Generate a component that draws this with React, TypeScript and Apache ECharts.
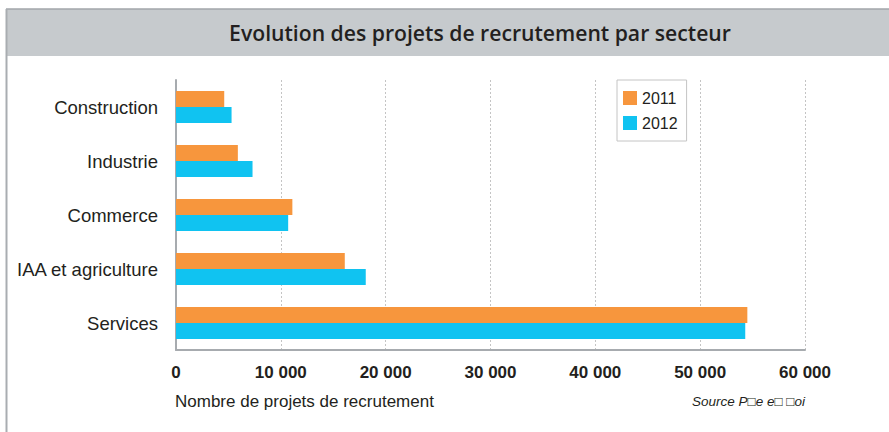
import React, { useEffect, useRef } from "react";
import * as echarts from "echarts";

const categories = ["Construction", "Industrie", "Commerce", "IAA et agriculture", "Services"];
const values2011 = [4600, 5900, 11100, 16100, 54500];
const values2012 = [5300, 7300, 10700, 18100, 54300];
const xTicks = [0, 10000, 20000, 30000, 40000, 50000, 60000];
const seriesNames = ["2011", "2012"];
const titleText = "Evolution des projets de recrutement par secteur";
const axisNameText = "Nombre de projets de recrutement";
const sourceText = "Source P\u25A1e e\u25A1 \u25A1oi";

const fmt = (v: number) => String(v).replace(/\B(?=(\d{3})+(?!\d))/g, " ");

const TITLE_FONT = "600 22px 'Open Sans'";
const TITLE_TARGET_WIDTH = 502;

function titleScale(): number {
  try {
    const c = document.createElement("canvas");
    const ctx = c.getContext("2d");
    if (!ctx) return 0.85;
    ctx.font = TITLE_FONT;
    const w = ctx.measureText(titleText).width;
    if (!w) return 0.85;
    return Math.min(1, TITLE_TARGET_WIDTH / w);
  } catch (e) {
    return 0.85;
  }
}

export default function App() {
  const ref = useRef<HTMLDivElement>(null);
  useEffect(() => {
    if (!ref.current) return;
    const chart = echarts.init(ref.current, null, { renderer: "svg" });
    const sx = titleScale();
    chart.setOption({
      animation: false,
      backgroundColor: "#ffffff",
      textStyle: { fontFamily: "Liberation Sans, Arial, sans-serif" },
      graphic: [
        { type: "rect", shape: { x: 7, y: 9, width: 882, height: 47 }, style: { fill: "#c6cacd" }, z: 0 },
        { type: "line", shape: { x1: 6, y1: 9, x2: 889, y2: 9 }, style: { stroke: "#a2a6aa", lineWidth: 1.5 }, z: 1 },
        { type: "line", shape: { x1: 6.5, y1: 9, x2: 6.5, y2: 432 }, style: { stroke: "#a9adb1", lineWidth: 2 }, z: 1 },
        {
          type: "text",
          x: 480,
          y: 32,
          scaleX: sx,
          style: {
            text: titleText,
            fontFamily: "Open Sans",
            fontSize: 22,
            fontWeight: 600,
            fill: "#231f20",
            align: "center",
            verticalAlign: "middle",
          },
          z: 2,
        },
        {
          type: "text",
          x: 175,
          y: 401,
          style: {
            text: axisNameText,
            fontFamily: "Liberation Sans, Arial, sans-serif",
            fontSize: 17,
            fill: "#231f20",
            align: "left",
            verticalAlign: "middle",
          },
        },
        {
          type: "text",
          x: 805,
          y: 401,
          style: {
            text: sourceText,
            fontFamily: "Liberation Sans, Arial, sans-serif",
            fontSize: 13.5,
            fontStyle: "italic",
            fill: "#231f20",
            align: "right",
            verticalAlign: "middle",
          },
        },
      ],
      legend: {
        orient: "vertical",
        left: 617,
        top: 80,
        data: seriesNames,
        itemWidth: 14,
        itemHeight: 14,
        itemGap: 9,
        padding: [10, 9, 10, 6],
        borderColor: "#c4c4c4",
        borderWidth: 1,
        icon: "rect",
        textStyle: { fontSize: 16, color: "#231f20", fontFamily: "Liberation Sans, Arial, sans-serif" },
      },
      grid: { left: 176, right: 84, top: 80, bottom: 82, containLabel: false },
      xAxis: {
        type: "value",
        min: xTicks[0],
        max: xTicks[xTicks.length - 1],
        interval: xTicks[1] - xTicks[0],
        axisLine: { show: true, lineStyle: { color: "#a7abaf", width: 2 } },
        axisTick: { show: false },
        splitLine: { show: true, lineStyle: { color: "#c4c4c4", type: [2, 2], width: 1 } },
        axisLabel: {
          fontSize: 17,
          fontWeight: "bold",
          color: "#231f20",
          margin: 14,
          fontFamily: "Liberation Sans, Arial, sans-serif",
          formatter: (v: number) => fmt(v),
        },
      },
      yAxis: {
        type: "category",
        inverse: true,
        data: categories,
        axisLine: { show: true, lineStyle: { color: "#a7abaf", width: 2 } },
        axisTick: { show: false },
        axisLabel: { fontSize: 18.5, color: "#231f20", margin: 18, fontFamily: "Liberation Sans, Arial, sans-serif" },
      },
      series: [
        {
          name: seriesNames[0],
          type: "bar",
          data: values2011,
          barWidth: 16,
          barGap: "0%",
          itemStyle: { color: "#f7963d" },
        },
        {
          name: seriesNames[1],
          type: "bar",
          data: values2012,
          barWidth: 16,
          barGap: "0%",
          itemStyle: { color: "#10c3f1" },
        },
      ],
    });
    return () => chart.dispose();
  }, []);
  return <div ref={ref} style={{ position: "fixed", left: 0, top: 0, width: 889, height: 432 }} />;
}
